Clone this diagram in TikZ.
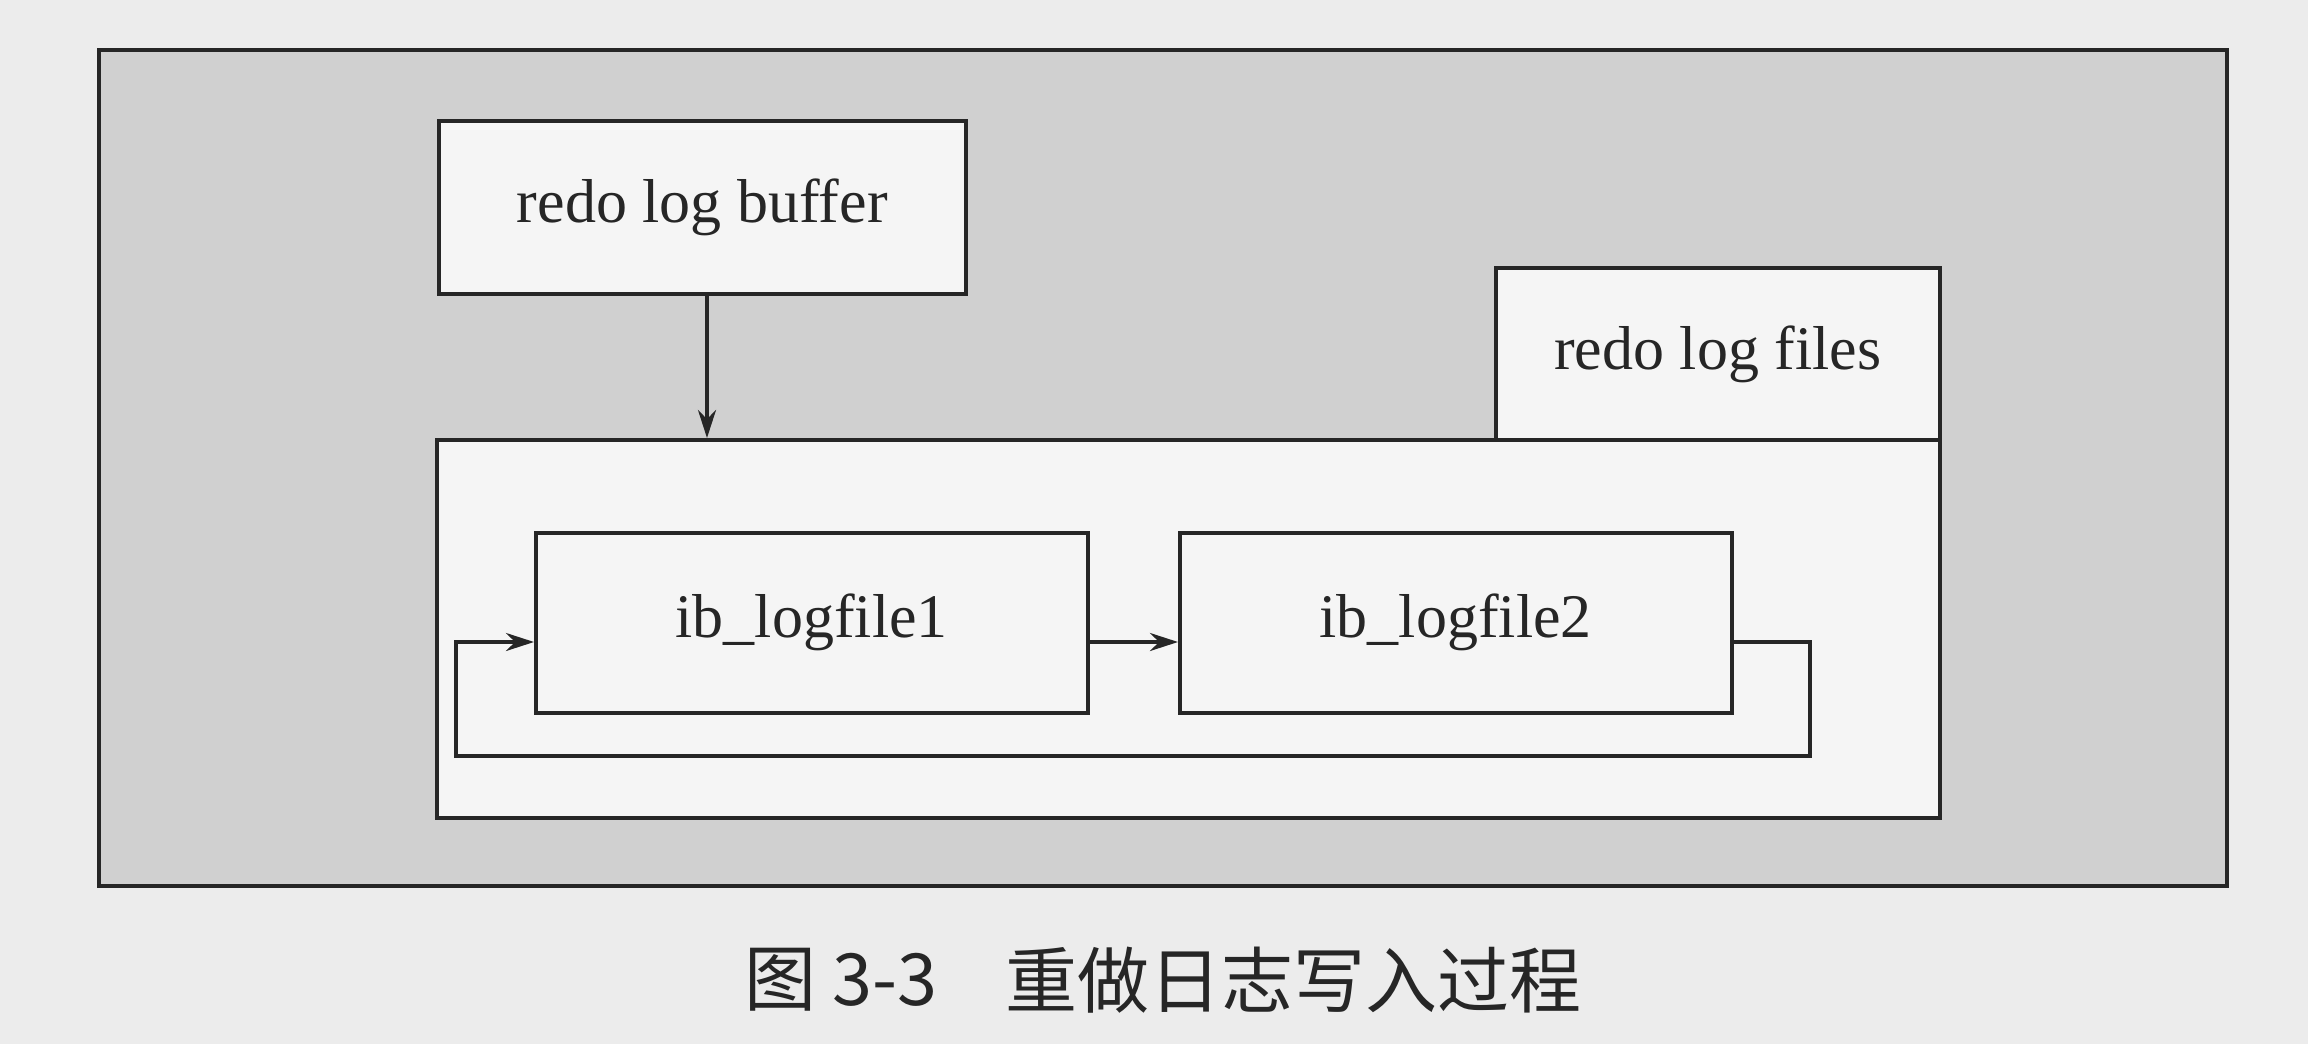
\documentclass[tikz,border=0pt]{standalone}
\usepackage{fontspec}
\setmainfont{Liberation Serif}
\newfontfamily\cjk{Noto Sans CJK SC}
\usetikzlibrary{arrows.meta}
\definecolor{pagebg}{HTML}{ECECEC}
\definecolor{panel}{HTML}{D0D0D0}
\definecolor{boxfill}{HTML}{F5F5F5}
\definecolor{ink}{HTML}{262626}
\begin{document}
\begin{tikzpicture}[x=1pt,y=-1pt,
  frame/.style={draw=ink, line width=3.5pt},
  box/.style={frame, fill=boxfill, anchor=north west, inner sep=0pt, text=ink,
    font=\fontsize{62}{70}\selectfont},
  arr/.style={draw=ink, line width=3.5pt, -{Stealth[length=28pt,width=18pt]}},
  lin/.style={draw=ink, line width=3.5pt}]
\useasboundingbox (0,0) rectangle (2308,1044);
\fill[pagebg] (0,0) rectangle (2308,1044);
% outer panel
\node[frame, fill=panel, anchor=north west, minimum width=2128pt, minimum height=836pt, inner sep=0pt] (panel) at (97,48) {};
% redo log files tab and big box
\node[box, minimum width=444pt, minimum height=174pt] (files) at (1494,266) {redo log files};
\node[box, minimum width=1503pt, minimum height=378pt] (big) at (435,438) {};
% buffer
\node[box, minimum width=527pt, minimum height=173pt] (buf) at (437,119) {redo log buffer};
% log files
\node[box, minimum width=552pt, minimum height=180pt] (ib1) at (534,531) {ib\_logfile1};
\node[box, minimum width=552pt, minimum height=180pt] (ib2) at (1178,531) {ib\_logfile2};
% helper coordinates
\coordinate (ax) at (707,0);
\coordinate (ly) at (0,642);
\coordinate (lr) at (1810,642);
\coordinate (lrb) at (1810,756);
\coordinate (llb) at (456,756);
\coordinate (llt) at (456,642);
% connectors
\draw[arr] (buf.south -| ax) -- (big.north -| ax);
\draw[arr] (ib1.east |- ly) -- (ib2.west |- ly);
\draw[arr, line join=miter] (ib2.east |- ly) -- (lr) -- (lrb) -- (llb) -- (llt) -- (ib1.west |- ly);
% caption
\node[anchor=west, inner sep=0pt, text=ink, font=\cjk\fontsize{72}{80}\selectfont] (cap1) at (744,980) {图 3-3};
\node[anchor=west, inner sep=0pt, text=ink, font=\cjk\fontsize{72}{80}\selectfont] (cap2) at (1005,980) {重做日志写入过程};
\end{tikzpicture}
\end{document}
